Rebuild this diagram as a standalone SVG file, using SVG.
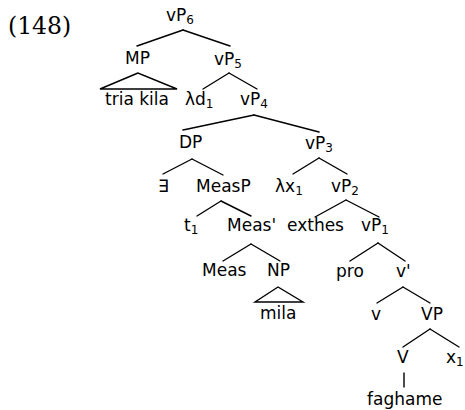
<svg xmlns="http://www.w3.org/2000/svg" width="465" height="410" viewBox="0 0 465 410">
<style>
text{font-family:"DejaVu Sans","Liberation Sans",sans-serif;font-size:17px;fill:#000}
.num{font-family:"DejaVu Serif","Liberation Serif",serif;font-size:23.5px}
.sub{font-size:12px}
.edges line{stroke:#000;stroke-width:1.4;stroke-linecap:round}
.tri{fill:none;stroke:#000;stroke-width:1.4;stroke-linejoin:miter}
</style>
<rect width="465" height="410" fill="#fff"/>
<text class="num" x="8" y="34">(148)</text>
<g class="edges">
<line x1="183" y1="30" x2="137" y2="46"/><line x1="183" y1="30" x2="230" y2="46"/>
<line x1="229" y1="73" x2="203" y2="89"/><line x1="229" y1="73" x2="257" y2="89"/>
<line x1="254" y1="115" x2="183" y2="130"/><line x1="254" y1="115" x2="319" y2="132"/>
<line x1="192" y1="159" x2="163" y2="174"/><line x1="192" y1="159" x2="223" y2="175"/>
<line x1="319" y1="158" x2="293" y2="174"/><line x1="319" y1="158" x2="347" y2="174"/>
<line x1="221" y1="201" x2="197" y2="216"/><line x1="221" y1="201" x2="251" y2="216"/>
<line x1="346" y1="200" x2="315" y2="217"/><line x1="346" y1="200" x2="379" y2="217"/>
<line x1="251" y1="244" x2="223" y2="261"/><line x1="251" y1="244" x2="280" y2="261"/>
<line x1="378" y1="243" x2="350" y2="261"/><line x1="378" y1="243" x2="405" y2="261"/>
<line x1="403" y1="287" x2="377" y2="303"/><line x1="403" y1="287" x2="430" y2="303"/>
<line x1="430" y1="329" x2="403" y2="347"/><line x1="430" y1="329" x2="459" y2="347"/>
<line x1="404" y1="373" x2="404" y2="387"/>
<polygon class="tri" points="138,73 100,89 177,89"/>
<polygon class="tri" points="278,287 255,302 303,302"/>
</g>
<g id="vP6"><text x="166" y="21">vP<tspan class="sub" dy="3">6</tspan></text></g>
<g id="MP"><text x="125" y="64">MP</text></g>
<g id="vP5"><text x="214" y="65">vP<tspan class="sub" dy="3">5</tspan></text></g>
<g id="triakila"><text x="105" y="105">tria kila</text></g>
<g id="ld1"><text x="185" y="105">λd<tspan class="sub" dy="3">1</tspan></text></g>
<g id="vP4"><text x="240" y="105">vP<tspan class="sub" dy="3">4</tspan></text></g>
<g id="DP"><text x="179" y="148">DP</text></g>
<g id="vP3"><text x="305" y="149">vP<tspan class="sub" dy="3">3</tspan></text></g>
<g id="exists"><text x="158" y="192">∃</text></g>
<g id="MeasP"><text x="196" y="192">MeasP</text></g>
<g id="lx1"><text x="275" y="192">λx<tspan class="sub" dy="3">1</tspan></text></g>
<g id="vP2"><text x="331" y="192">vP<tspan class="sub" dy="3">2</tspan></text></g>
<g id="t1"><text x="184" y="231">t<tspan class="sub" dy="3">1</tspan></text></g>
<g id="Measbar"><text x="227" y="231">Meas'</text></g>
<g id="exthes"><text x="287" y="231">exthes</text></g>
<g id="vP1"><text x="361" y="231">vP<tspan class="sub" dy="3">1</tspan></text></g>
<g id="Meas"><text x="202" y="276">Meas</text></g>
<g id="NP"><text x="267" y="276">NP</text></g>
<g id="pro"><text x="336" y="277">pro</text></g>
<g id="vbar"><text x="396" y="277">v'</text></g>
<g id="mila"><text x="260" y="319">mila</text></g>
<g id="v"><text x="371" y="320">v</text></g>
<g id="VP"><text x="421" y="320">VP</text></g>
<g id="V"><text x="397" y="363">V</text></g>
<g id="x1"><text x="446" y="363">x<tspan class="sub" dy="3">1</tspan></text></g>
<g id="faghame"><text x="367" y="405">faghame</text></g>
</svg>
